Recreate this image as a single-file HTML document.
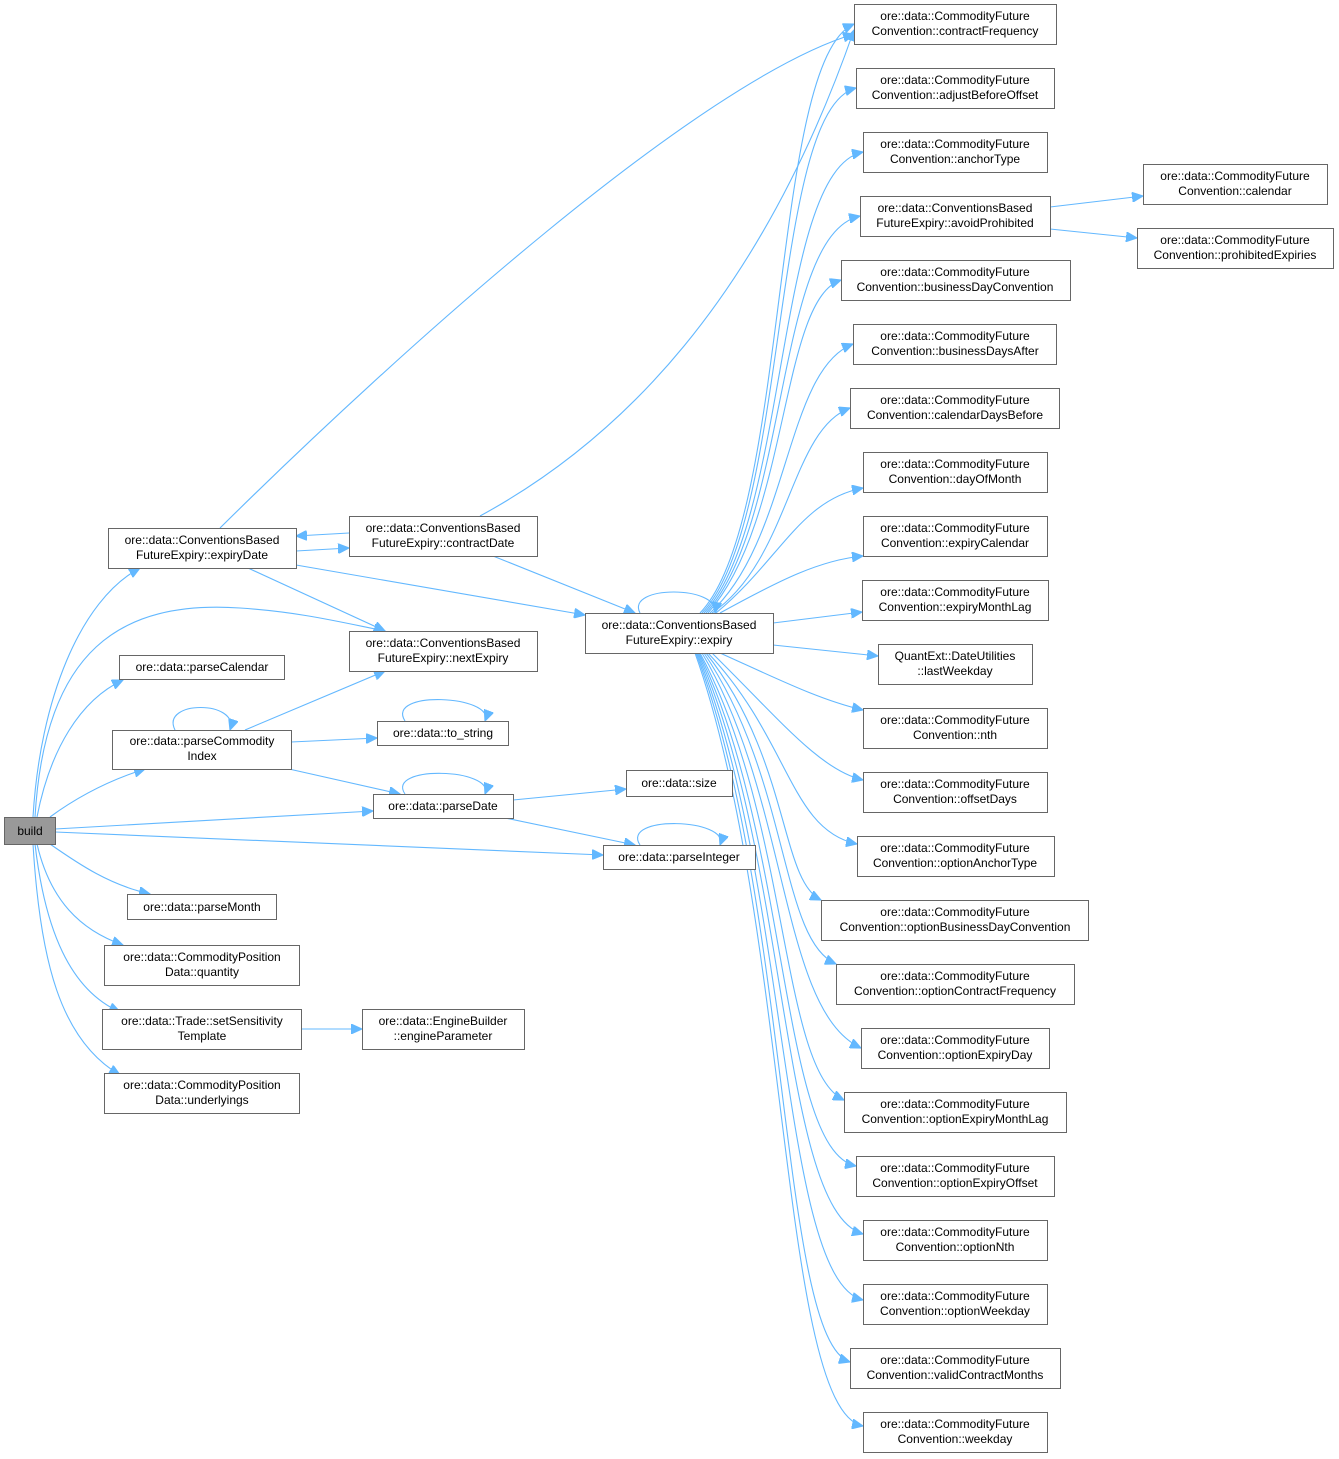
<!DOCTYPE html>
<html><head><meta charset="utf-8"><style>
html,body{margin:0;padding:0;background:#fff}
svg{display:block}
text{font-family:"Liberation Sans",Arial,sans-serif;font-size:12px;fill:#000;text-anchor:middle}
rect{fill:#fff;stroke:#666;stroke-width:1}
path{fill:none;stroke:#63b8ff;stroke-width:1.1}
</style></head><body>
<svg width="1339" height="1459" viewBox="0 0 1339 1459" xmlns="http://www.w3.org/2000/svg">
<defs><marker id="a" markerUnits="userSpaceOnUse" markerWidth="12" markerHeight="10" refX="11" refY="5" orient="auto"><path d="M0,0 L11,5 L0,10 z" style="fill:#63b8ff;stroke:#63b8ff"/></marker></defs>
<g marker-end="url(#a)">
<path d="M33 817 C40 700,80 600,140 568"/>
<path d="M35 817 C45 650,120 600,240 608 C300 612,340 622,385 631"/>
<path d="M37 817 C50 750,80 700,123 680"/>
<path d="M50 817 C80 795,110 780,145 769"/>
<path d="M55 829 L373 811"/>
<path d="M55 832 L603 855"/>
<path d="M50 844 C80 865,110 885,150 894"/>
<path d="M37 844 C50 900,80 930,123 945"/>
<path d="M35 844 C45 930,70 990,120 1012"/>
<path d="M33 844 C40 960,60 1040,120 1075"/>
<path d="M296 551 L349 548"/>
<path d="M349 533 L296 536"/>
<path d="M220 528 C400 350,700 80,854 34"/>
<path d="M480 516 C620 440,760 300,854 30"/>
<path d="M248 568 L385 631"/>
<path d="M296 565 L585 615"/>
<path d="M493 556 L635 613"/>
<path d="M245 730 L385 671"/>
<path d="M175 730 C160 700,240 700,230 730"/>
<path d="M291 742 L377 738"/>
<path d="M289 769 L400 794"/>
<path d="M405 721 C385 690,495 695,485 721"/>
<path d="M405 794 C385 765,495 768,485 794"/>
<path d="M513 800 L626 789"/>
<path d="M505 818 L635 845"/>
<path d="M640 845 C620 815,730 818,720 845"/>
<path d="M301 1029 L362 1029"/>
<path d="M640 613 C625 585,720 585,715 613"/>
<path d="M1050 207 L1143 196"/>
<path d="M1050 229 L1137 238"/>
<!-- expiry up -->
<path d="M700 613 C790 520,770 60,854 24"/>
<path d="M702 613 C790 520,770 110,856 88"/>
<path d="M704 613 C790 520,775 170,863 152"/>
<path d="M706 613 C790 520,775 235,860 216"/>
<path d="M708 613 C790 520,780 300,841 280"/>
<path d="M710 613 C790 540,785 370,853 344"/>
<path d="M712 613 C790 560,790 430,850 408"/>
<path d="M716 613 C780 560,800 500,863 488"/>
<path d="M720 613 C780 580,820 560,863 556"/>
<path d="M773 623 L862 612"/>
<path d="M773 645 L878 656"/>
<!-- expiry down -->
<path d="M720 653 C780 680,820 700,863 710"/>
<path d="M712 653 C780 720,820 770,863 780"/>
<path d="M708 653 C790 740,790 830,857 844"/>
<path d="M706 653 C790 760,780 880,821 900"/>
<path d="M704 653 C790 780,780 940,836 964"/>
<path d="M702 653 C790 800,780 1010,861 1048"/>
<path d="M700 653 C790 820,780 1070,844 1100"/>
<path d="M699 653 C790 840,780 1150,856 1166"/>
<path d="M698 653 C790 860,780 1210,863 1234"/>
<path d="M697 653 C790 880,780 1280,863 1300"/>
<path d="M696 653 C790 900,780 1340,850 1362"/>
<path d="M695 653 C790 920,780 1410,863 1426"/>
</g>
<rect x="4.5" y="817.5" width="51" height="27" style="fill:#999"/><text x="30" y="835">build</text>
<rect x="108.5" y="528.5" width="188" height="40"/><text x="202" y="544">ore::data::ConventionsBased</text><text x="202" y="559">FutureExpiry::expiryDate</text>
<rect x="349.5" y="516.5" width="188" height="40"/><text x="443" y="532">ore::data::ConventionsBased</text><text x="443" y="547">FutureExpiry::contractDate</text>
<rect x="349.5" y="631.5" width="188" height="40"/><text x="443" y="647">ore::data::ConventionsBased</text><text x="443" y="662">FutureExpiry::nextExpiry</text>
<rect x="119.5" y="655.5" width="165" height="24"/><text x="202" y="671">ore::data::parseCalendar</text>
<rect x="112.5" y="730.5" width="179" height="39"/><text x="202" y="745">ore::data::parseCommodity</text><text x="202" y="760">Index</text>
<rect x="377.5" y="721.5" width="131" height="24"/><text x="443" y="737">ore::data::to_string</text>
<rect x="373.5" y="794.5" width="140" height="24"/><text x="443" y="810">ore::data::parseDate</text>
<rect x="626.5" y="770.5" width="106" height="26"/><text x="679" y="787">ore::data::size</text>
<rect x="603.5" y="845.5" width="152" height="24"/><text x="679" y="861">ore::data::parseInteger</text>
<rect x="127.5" y="894.5" width="149" height="25"/><text x="202" y="911">ore::data::parseMonth</text>
<rect x="104.5" y="945.5" width="195" height="40"/><text x="202" y="961">ore::data::CommodityPosition</text><text x="202" y="976">Data::quantity</text>
<rect x="102.5" y="1009.5" width="199" height="40"/><text x="202" y="1025">ore::data::Trade::setSensitivity</text><text x="202" y="1040">Template</text>
<rect x="362.5" y="1009.5" width="162" height="40"/><text x="443" y="1025">ore::data::EngineBuilder</text><text x="443" y="1040">::engineParameter</text>
<rect x="104.5" y="1073.5" width="195" height="40"/><text x="202" y="1089">ore::data::CommodityPosition</text><text x="202" y="1104">Data::underlyings</text>
<rect x="585.5" y="613.5" width="188" height="40"/><text x="679" y="629">ore::data::ConventionsBased</text><text x="679" y="644">FutureExpiry::expiry</text>
<rect x="1143.5" y="164.5" width="184" height="40"/><text x="1235" y="180">ore::data::CommodityFuture</text><text x="1235" y="195">Convention::calendar</text>
<rect x="1137.5" y="228.5" width="196" height="40"/><text x="1235" y="244">ore::data::CommodityFuture</text><text x="1235" y="259">Convention::prohibitedExpiries</text>
<g>
<rect x="854.5" y="4.5" width="202" height="40"/><text x="955" y="20">ore::data::CommodityFuture</text><text x="955" y="35">Convention::contractFrequency</text>
<rect x="856.5" y="68.5" width="198" height="40"/><text x="955" y="84">ore::data::CommodityFuture</text><text x="955" y="99">Convention::adjustBeforeOffset</text>
<rect x="863.5" y="132.5" width="184" height="40"/><text x="955" y="148">ore::data::CommodityFuture</text><text x="955" y="163">Convention::anchorType</text>
<rect x="860.5" y="196.5" width="190" height="40"/><text x="955" y="212">ore::data::ConventionsBased</text><text x="955" y="227">FutureExpiry::avoidProhibited</text>
<rect x="841.5" y="260.5" width="229" height="40"/><text x="955" y="276">ore::data::CommodityFuture</text><text x="955" y="291">Convention::businessDayConvention</text>
<rect x="853.5" y="324.5" width="203" height="40"/><text x="955" y="340">ore::data::CommodityFuture</text><text x="955" y="355">Convention::businessDaysAfter</text>
<rect x="850.5" y="388.5" width="209" height="40"/><text x="955" y="404">ore::data::CommodityFuture</text><text x="955" y="419">Convention::calendarDaysBefore</text>
<rect x="863.5" y="452.5" width="184" height="40"/><text x="955" y="468">ore::data::CommodityFuture</text><text x="955" y="483">Convention::dayOfMonth</text>
<rect x="863.5" y="516.5" width="184" height="40"/><text x="955" y="532">ore::data::CommodityFuture</text><text x="955" y="547">Convention::expiryCalendar</text>
<rect x="862.5" y="580.5" width="186" height="40"/><text x="955" y="596">ore::data::CommodityFuture</text><text x="955" y="611">Convention::expiryMonthLag</text>
<rect x="878.5" y="644.5" width="154" height="40"/><text x="955" y="660">QuantExt::DateUtilities</text><text x="955" y="675">::lastWeekday</text>
<rect x="863.5" y="708.5" width="184" height="40"/><text x="955" y="724">ore::data::CommodityFuture</text><text x="955" y="739">Convention::nth</text>
<rect x="863.5" y="772.5" width="184" height="40"/><text x="955" y="788">ore::data::CommodityFuture</text><text x="955" y="803">Convention::offsetDays</text>
<rect x="857.5" y="836.5" width="197" height="40"/><text x="955" y="852">ore::data::CommodityFuture</text><text x="955" y="867">Convention::optionAnchorType</text>
<rect x="821.5" y="900.5" width="267" height="40"/><text x="955" y="916">ore::data::CommodityFuture</text><text x="955" y="931">Convention::optionBusinessDayConvention</text>
<rect x="836.5" y="964.5" width="238" height="40"/><text x="955" y="980">ore::data::CommodityFuture</text><text x="955" y="995">Convention::optionContractFrequency</text>
<rect x="861.5" y="1028.5" width="188" height="40"/><text x="955" y="1044">ore::data::CommodityFuture</text><text x="955" y="1059">Convention::optionExpiryDay</text>
<rect x="844.5" y="1092.5" width="222" height="40"/><text x="955" y="1108">ore::data::CommodityFuture</text><text x="955" y="1123">Convention::optionExpiryMonthLag</text>
<rect x="856.5" y="1156.5" width="198" height="40"/><text x="955" y="1172">ore::data::CommodityFuture</text><text x="955" y="1187">Convention::optionExpiryOffset</text>
<rect x="863.5" y="1220.5" width="184" height="40"/><text x="955" y="1236">ore::data::CommodityFuture</text><text x="955" y="1251">Convention::optionNth</text>
<rect x="863.5" y="1284.5" width="184" height="40"/><text x="955" y="1300">ore::data::CommodityFuture</text><text x="955" y="1315">Convention::optionWeekday</text>
<rect x="850.5" y="1348.5" width="210" height="40"/><text x="955" y="1364">ore::data::CommodityFuture</text><text x="955" y="1379">Convention::validContractMonths</text>
<rect x="863.5" y="1412.5" width="184" height="40"/><text x="955" y="1428">ore::data::CommodityFuture</text><text x="955" y="1443">Convention::weekday</text>
</g>
</svg>
</body></html>
